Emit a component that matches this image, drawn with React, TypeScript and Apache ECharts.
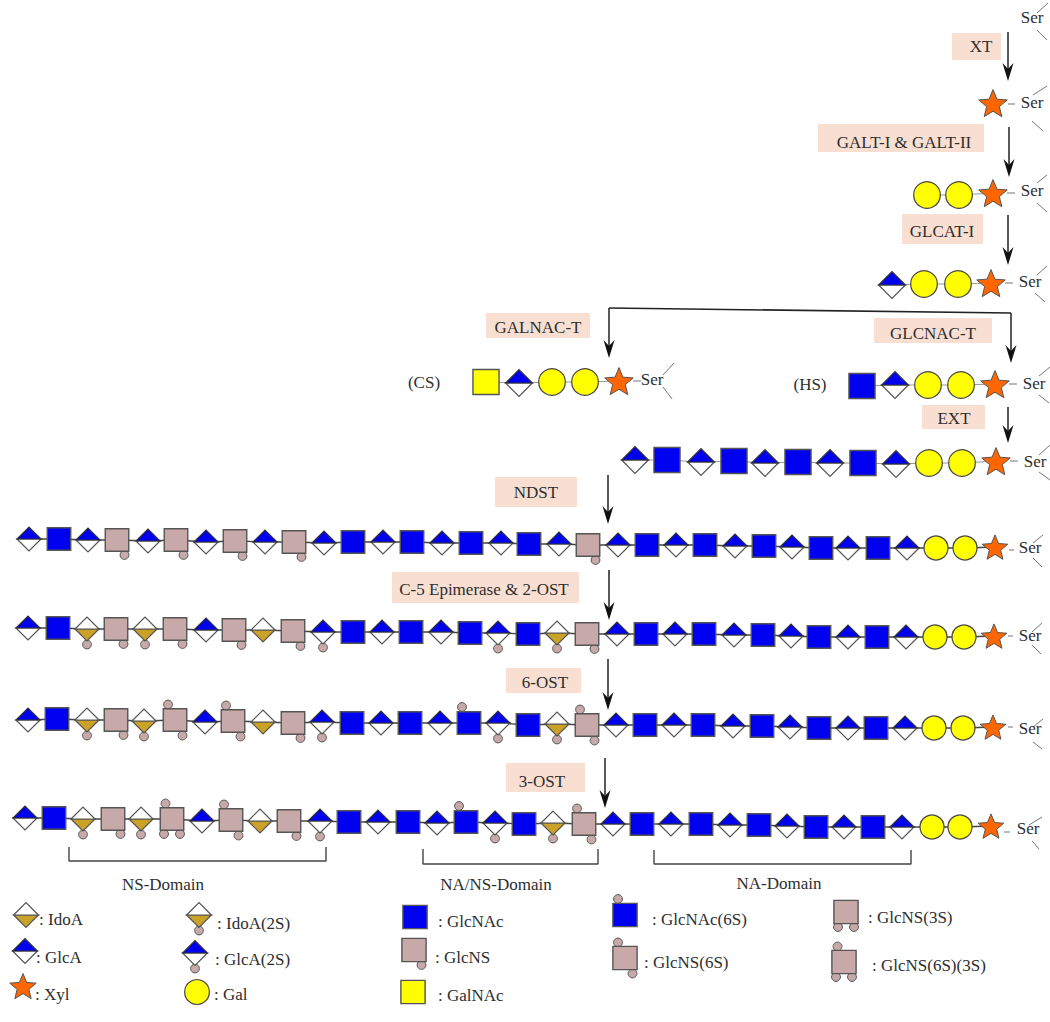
import React, { useEffect, useRef } from "react";
import * as echarts from "echarts";

type G = [number, number, string];

// Glycan chains: [x, y, residue]
const rowXyl: G[] = [[993, 103, "X"]];
const rowGal: G[] = [[927, 195, "O"], [959, 195, "O"], [993, 193, "X"]];
const rowGlcA: G[] = [[892, 285, "G"], [924, 284, "O"], [958, 284, "O"], [991, 283, "X"]];
const rowCS: G[] = [[486, 382, "Y"], [519, 383, "G"], [552, 382, "O"], [585, 382, "O"], [619, 381, "X"]];
const rowHS: G[] = [[862, 386, "N"], [895, 385, "G"], [928, 385, "O"], [961, 385, "O"], [995, 384, "X"]];
const rowEXT: G[] = [[635, 460, "G"], [667, 460, "N"], [701, 462, "G"], [734, 461, "N"], [765, 463, "G"], [798, 462, "N"], [830, 463, "G"], [863, 463, "N"], [896, 464, "G"], [929, 463, "O"], [962, 463, "O"], [996, 461, "X"]];
const rowNDST: G[] = [[29, 539, "G"], [59, 539, "N"], [88, 540, "G"], [117, 540, "S"], [148, 541, "G"], [176, 540, "S"], [206, 542, "G"], [235, 541, "S"], [265, 542, "G"], [294, 542, "S"], [324, 543, "G"], [353, 542, "N"], [383, 542, "G"], [412, 542, "N"], [442, 543, "G"], [471, 543, "N"], [501, 543, "G"], [529, 544, "N"], [559, 544, "G"], [588, 545, "S"], [618, 545, "G"], [647, 545, "N"], [676, 545, "G"], [705, 545, "N"], [735, 546, "G"], [764, 546, "N"], [792, 547, "G"], [821, 548, "N"], [848, 548, "G"], [878, 548, "N"], [907, 548, "G"], [936, 548, "O"], [965, 548, "O"], [995, 547, "X"]];
const rowC5: G[] = [[28, 628, "G"], [58, 628, "N"], [87, 629, "I2"], [116, 629, "S"], [145, 629, "I2"], [175, 629, "S"], [206, 630, "G"], [234, 630, "S"], [263, 630, "I"], [293, 631, "S"], [323, 632, "G2"], [353, 632, "N"], [382, 632, "G"], [411, 632, "N"], [441, 632, "G"], [470, 633, "N"], [498, 633, "G2"], [528, 634, "N"], [557, 633, "I2"], [587, 634, "S"], [617, 634, "G"], [646, 634, "N"], [675, 634, "G"], [704, 634, "N"], [734, 635, "G"], [763, 635, "N"], [791, 636, "G"], [819, 637, "N"], [848, 637, "G"], [877, 637, "N"], [906, 637, "G"], [935, 637, "O"], [964, 637, "O"], [994, 636, "X"]];
const row6OST: G[] = [[28, 720, "G"], [57, 719, "N"], [87, 720, "I2"], [116, 720, "S"], [144, 721, "I2"], [175, 720, "S6"], [205, 722, "G"], [233, 721, "S6"], [263, 722, "I"], [293, 723, "S"], [322, 722, "G2"], [352, 723, "N"], [381, 723, "G"], [410, 723, "N"], [440, 723, "G"], [469, 723, "N6"], [498, 723, "G2"], [528, 725, "N"], [557, 724, "I2"], [587, 725, "S6"], [616, 725, "G"], [645, 725, "N"], [674, 725, "G"], [703, 725, "N"], [733, 726, "G"], [762, 726, "N"], [790, 727, "G"], [819, 728, "N"], [848, 728, "G"], [876, 728, "N"], [905, 728, "G"], [934, 728, "O"], [963, 728, "O"], [993, 727, "X"]];
const row3OST: G[] = [[25, 818, "G"], [54, 818, "N"], [83, 819, "I2"], [113, 819, "S"], [141, 819, "I2"], [172, 819, "S63"], [202, 821, "G"], [231, 820, "S6"], [260, 821, "I"], [289, 821, "S"], [320, 821, "G2"], [349, 822, "N"], [378, 822, "G"], [408, 822, "N"], [437, 823, "G"], [466, 822, "N6"], [495, 823, "G2"], [524, 824, "N"], [553, 823, "I2"], [584, 824, "S6"], [613, 824, "G"], [642, 824, "N"], [671, 824, "G"], [701, 824, "N"], [730, 825, "G"], [759, 825, "N"], [787, 826, "G"], [816, 827, "N"], [844, 827, "G"], [873, 827, "N"], [902, 827, "G"], [932, 827, "O"], [960, 827, "O"], [991, 826, "X"]];
const largeRows = [rowXyl, rowGal, rowGlcA, rowCS, rowHS, rowEXT];
const smallRows = [rowNDST, rowC5, row6OST, row3OST];

const legendGlyphs: G[] = [[26, 915, "I"], [25, 951, "G"], [23, 986, "X"], [199, 915, "I2"], [195, 953, "G2"], [197, 992, "O"], [415, 917, "N"], [414, 950, "S"], [413, 992, "Y"], [625, 915, "N6"], [625, 958, "S6"], [846, 912, "S3"], [844, 962, "S63"]];
const legendLabels: [number, number, string][] = [[39, 919, ": IdoA"], [36, 957, ": GlcA"], [35, 994, ": Xyl"], [217, 923, ": IdoA(2S)"], [215, 959, ": GlcA(2S)"], [214, 994, ": Gal"], [438, 921, ": GlcNAc"], [435, 957, ": GlcNS"], [438, 995, ": GalNAc"], [652, 919, ": GlcNAc(6S)"], [644, 962, ": GlcNS(6S)"], [868, 917, ": GlcNS(3S)"], [872, 965, ": GlcNS(6S)(3S)"]];

const enzymeBoxes: [number, number, number, number, number, number, string][] = [
  [952, 33, 1001, 60, 981, 46, "XT"],
  [818, 124, 984, 152, 904, 142, "GALT-I & GALT-II"],
  [902, 214, 983, 244, 942, 231, "GLCAT-I"],
  [486, 313, 590, 338, 538, 327, "GALNAC-T"],
  [874, 318, 992, 343, 933, 333, "GLCNAC-T"],
  [922, 405, 985, 429, 954, 418, "EXT"],
  [495, 477, 577, 507, 536, 492, "NDST"],
  [392, 572, 579, 603, 484, 589, "C-5 Epimerase & 2-OST"],
  [506, 668, 581, 693, 545, 682, "6-OST"],
  [506, 763, 585, 792, 542, 781, "3-OST"],
];

const arrows: number[][] = [[1008, 32, 81], [1009, 127, 177], [1008, 215, 265], [609, 308, 358], [1011, 313, 363], [1008, 407, 443], [608, 475, 524], [609, 570, 620], [608, 659, 710], [605, 758, 808]];
const branchLine: number[][] = [[609, 308], [1011, 313]];

const serLabels: [number, number, string][] = [[1032, 17, "Ser"], [1032, 102, "Ser"], [1032, 190, "Ser"], [1030, 281, "Ser"], [652, 379, "Ser"], [1034, 383, "Ser"], [1035, 461, "Ser"], [1030, 547, "Ser"], [1030, 635, "Ser"], [1030, 728, "Ser"], [1028, 828, "Ser"]];
const serTicks: number[][] = [
  [1037, 13, 1048, 3], [1037, 30, 1047, 40],
  [1033, 95, 1047, 86], [1032, 121, 1043, 131], [1008, 104, 1015, 104],
  [1037, 183, 1047, 175], [1037, 203, 1047, 212], [1007, 193, 1015, 193],
  [1037, 275, 1047, 266], [1035, 293, 1045, 302], [1005, 283, 1013, 283],
  [663, 375, 674, 363], [663, 387, 672, 399], [633, 381, 641, 381],
  [1039, 376, 1050, 367], [1039, 395, 1049, 403], [1009, 384, 1017, 384],
  [1039, 455, 1050, 445], [1039, 472, 1050, 480], [1010, 461, 1018, 461],
  [1033, 543, 1043, 535], [1033, 558, 1042, 567], [1009, 550, 1014, 550],
  [1032, 632, 1042, 623], [1032, 645, 1041, 654], [1008, 636, 1013, 636],
  [1033, 727, 1043, 719], [1033, 742, 1042, 749], [1008, 727, 1013, 727],
  [1029, 825, 1042, 817], [1032, 841, 1039, 849], [1004, 832, 1010, 832],
];

const brackets: number[][][] = [
  [[69, 847], [69, 861], [326, 861], [326, 847]],
  [[423, 849], [423, 864], [598, 864], [598, 849]],
  [[654, 850], [654, 864], [911, 864], [911, 850]],
];
const plainLabels: [number, number, string][] = [[424, 382, "(CS)"], [810, 384, "(HS)"], [163, 884, "NS-Domain"], [496, 884, "NA/NS-Domain"], [779, 883, "NA-Domain"]];

const BLUE = "#0000f0";
const GOLD = "#c9a227";
const ROSE = "#c8a9a9";
const YELLOW = "#ffff00";
const STAR = "#ff6600";
const INK = "#2e2e2e";
const FONT = '17px "Liberation Serif", "Times New Roman", serif';

const dotOffsets: Record<string, number[][]> = {
  S: [[7.5, 15]],
  S6: [[-7, -15.5], [7.5, 15.5]],
  N6: [[-7, -16]],
  S3: [[-8, 15], [8, 15]],
  S63: [[-6.5, -15.5], [-8, 15], [8, 15]],
  I2: [[0, 15.5]],
  G2: [[0, 15.5]],
};

function diamond(x: number, y: number, s: number, top: string, bottom: string) {
  const h = 12 * s;
  return [
    { type: "polygon", shape: { points: [[x - h, y], [x + h, y], [x, y + h]] }, style: { fill: bottom, stroke: "#555", lineWidth: 1.2 } },
    { type: "polygon", shape: { points: [[x - h, y], [x + h, y], [x, y - h]] }, style: { fill: top, stroke: top === "#ffffff" ? "#555" : "#333", lineWidth: 1.2 } },
  ];
}

function glyph(kind: string, x: number, y: number, s: number) {
  const children: any[] = [];
  if (dotOffsets[kind]) {
    for (const [dx, dy] of dotOffsets[kind]) {
      children.push({ type: "circle", shape: { cx: x + dx, cy: y + dy, r: 4.4 }, style: { fill: ROSE, stroke: "#555", lineWidth: 1 } });
    }
  }
  const base = kind[0];
  if (base === "G") children.push(...diamond(x, y, s, BLUE, "#ffffff"));
  if (base === "I") children.push(...diamond(x, y, s, "#ffffff", GOLD));
  if (base === "N" || base === "S" || base === "Y") {
    const w = 23.5 * s;
    const h = 22.5 * s;
    const fill = base === "N" ? BLUE : base === "S" ? ROSE : YELLOW;
    children.push({ type: "rect", shape: { x: x - w / 2, y: y - h / 2, width: w, height: h }, style: { fill, stroke: "#555", lineWidth: 1.4 } });
  }
  if (base === "O") {
    children.push({ type: "circle", shape: { cx: x, cy: y, r: 12 * s }, style: { fill: YELLOW, stroke: "#444", lineWidth: 1.2 } });
  }
  if (base === "X") {
    const R = 13.5 * s;
    const r = 6 * s;
    const cy = y + 1.4 * s;
    const points: number[][] = [];
    for (let i = 0; i < 10; i++) {
      const a = -Math.PI / 2 + (i * Math.PI) / 5;
      const q = i % 2 === 0 ? R : r;
      points.push([x + q * Math.cos(a), cy + q * Math.sin(a)]);
    }
    children.push({ type: "polygon", shape: { points }, style: { fill: STAR, stroke: "#555", lineWidth: 1 } });
  }
  return { type: "group", children };
}

function glyphSeries(row: G[], s: number) {
  return {
    type: "custom",
    coordinateSystem: "cartesian2d",
    silent: true,
    z: 3,
    encode: { x: 0, y: 1 },
    data: row.map((g) => [g[0], g[1]]),
    renderItem: (p: any, api: any) => {
      const [x, y] = api.coord([api.value(0), api.value(1)]);
      return glyph(row[p.dataIndex][2], x, y, s);
    },
  };
}

function backbone(row: G[], color: string, width: number) {
  return {
    type: "line",
    silent: true,
    z: 2,
    symbol: "none",
    data: row.map((g) => [g[0], g[1]]),
    lineStyle: { color, width },
  };
}

function textSeries(items: [number, number, string][], align: string) {
  return {
    type: "custom",
    coordinateSystem: "cartesian2d",
    silent: true,
    z: 5,
    encode: { x: 0, y: 1 },
    data: items.map((t) => [t[0], t[1]]),
    renderItem: (p: any, api: any) => {
      const [x, y] = api.coord([api.value(0), api.value(1)]);
      return {
        type: "text",
        x,
        y,
        style: { text: items[p.dataIndex][2], font: FONT, fill: INK, align, verticalAlign: "middle" },
      };
    },
  };
}

export default function App() {
  const ref = useRef<HTMLDivElement>(null);
  useEffect(() => {
    const chart = echarts.init(ref.current!, undefined, { renderer: "svg" });
    const series: any[] = [];

    series.push({
      type: "custom",
      coordinateSystem: "cartesian2d",
      silent: true,
      z: 1,
      encode: { x: [0, 2], y: [1, 3] },
      data: enzymeBoxes.map((b) => [b[0], b[1], b[2], b[3]]),
      renderItem: (_p: any, api: any) => {
        const [x0, y0] = api.coord([api.value(0), api.value(1)]);
        const [x1, y1] = api.coord([api.value(2), api.value(3)]);
        return { type: "rect", shape: { x: x0, y: y0, width: x1 - x0, height: y1 - y0 }, style: { fill: "#f8dfd2" } };
      },
    });
    series.push(textSeries(enzymeBoxes.map((b) => [b[4], b[5], b[6]] as [number, number, string]), "center"));

    series.push({
      type: "custom",
      coordinateSystem: "cartesian2d",
      silent: true,
      z: 4,
      encode: { x: 0, y: [1, 2] },
      data: arrows,
      renderItem: (_p: any, api: any) => {
        const [x, y0] = api.coord([api.value(0), api.value(1)]);
        const [, y1] = api.coord([api.value(0), api.value(2)]);
        return {
          type: "group",
          children: [
            { type: "line", shape: { x1: x, y1: y0, x2: x, y2: y1 - 8 }, style: { stroke: "#222", lineWidth: 1.5 } },
            { type: "polygon", shape: { points: [[x, y1], [x - 5.5, y1 - 18], [x, y1 - 12], [x + 5.5, y1 - 18]] }, style: { fill: "#111" } },
          ],
        };
      },
    });
    series.push({ type: "line", silent: true, z: 4, symbol: "none", data: branchLine, lineStyle: { color: "#222", width: 1.6 } });

    series.push({
      type: "custom",
      coordinateSystem: "cartesian2d",
      silent: true,
      z: 2,
      encode: { x: [0, 2], y: [1, 3] },
      data: serTicks,
      renderItem: (_p: any, api: any) => {
        const [x1, y1] = api.coord([api.value(0), api.value(1)]);
        const [x2, y2] = api.coord([api.value(2), api.value(3)]);
        return { type: "line", shape: { x1, y1, x2, y2 }, style: { stroke: "#777", lineWidth: 1 } };
      },
    });
    series.push(textSeries(serLabels, "center"));

    for (const b of brackets) {
      series.push({ type: "line", silent: true, z: 2, symbol: "none", data: b, lineStyle: { color: "#444", width: 1.4 } });
    }
    series.push(textSeries(plainLabels, "center"));

    for (const row of largeRows) {
      if (row.length > 1) series.push(backbone(row, "#999", 1.2));
      series.push(glyphSeries(row, 1.11));
    }
    for (const row of smallRows) {
      series.push(backbone(row, "#444", 1.3));
      series.push(glyphSeries(row, 1));
    }
    series.push(glyphSeries(legendGlyphs, 1.03));
    series.push(textSeries(legendLabels, "left"));

    chart.setOption({
      animation: false,
      backgroundColor: "#ffffff",
      grid: { left: 0, right: 0, top: 0, bottom: 0 },
      xAxis: { type: "value", min: 0, max: 1050, show: false },
      yAxis: { type: "value", min: 0, max: 1022, inverse: true, show: false },
      series,
    });
    return () => chart.dispose();
  }, []);
  return <div ref={ref} style={{ position: "absolute", left: 0, top: 0, width: 1050, height: 1022 }} />;
}
